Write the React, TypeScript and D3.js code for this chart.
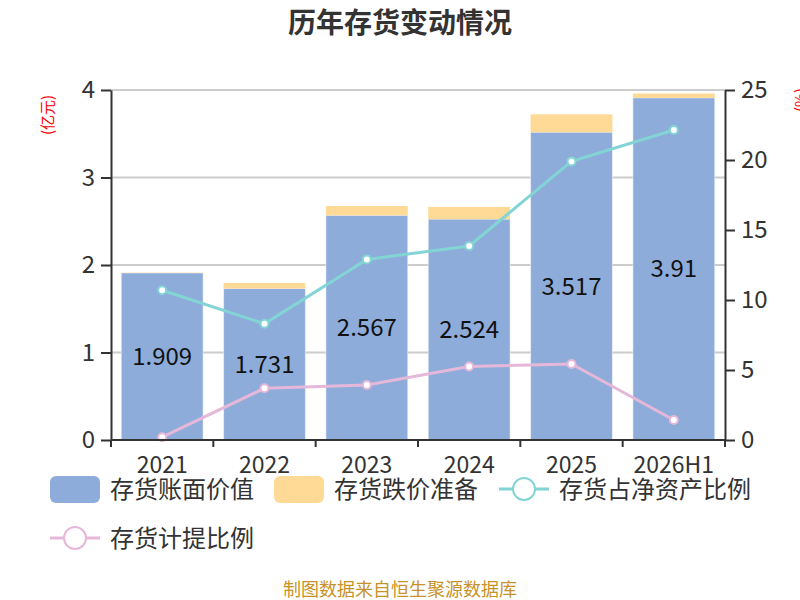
import React, { useEffect, useRef } from 'react';
import * as d3 from 'd3';

const years = ['2021', '2022', '2023', '2024', '2025', '2026H1'];
const bookValue = [1.909, 1.731, 2.567, 2.524, 3.517, 3.91];
const reserve = [0.004, 0.065, 0.107, 0.14, 0.205, 0.05];
const netAssetRatio = [10.7, 8.3, 12.9, 13.86, 19.9, 22.14];
const provisionRatio = [0.2, 3.7, 3.93, 5.25, 5.43, 1.43];
const leftTicks = [0, 1, 2, 3, 4];
const rightTicks = [0, 5, 10, 15, 20, 25];

const FONT = '"Noto Sans CJK SC", "Noto Sans", sans-serif';
const BLUE = '#8eacda';
const YELLOW = '#ffd996';
const TEAL = '#83d4d4';
const PINK = '#e5b8da';

const App: React.FC = () => {
  const svgRef = useRef<SVGSVGElement | null>(null);

  useEffect(() => {
    const width = 800;
    const height = 600;
    const marginLeft = 111;
    const marginRight = 75;
    const top = 90;
    const bottom = 440;

    const svg = d3.select(svgRef.current);
    svg.selectAll('*').remove();
    svg.attr('width', width).attr('height', height);

    const x = d3.scaleBand()
      .domain(years)
      .range([marginLeft, width - marginRight])
      .paddingInner(0.2)
      .paddingOuter(0.1);

    const y = d3.scaleLinear().domain([0, 4]).range([bottom, top]);
    const y2 = d3.scaleLinear().domain([0, 25]).range([bottom, top]);

    // Title
    svg.append('text')
      .attr('x', 400)
      .attr('y', 33)
      .attr('text-anchor', 'middle')
      .attr('font-family', FONT)
      .attr('font-size', 28)
      .attr('font-weight', 'bold')
      .attr('fill', '#333')
      .text('历年存货变动情况');

    // Grid lines (behind bars)
    svg.append('g')
      .selectAll('line')
      .data(leftTicks.slice(1))
      .join('line')
      .attr('x1', marginLeft)
      .attr('x2', width - marginRight)
      .attr('y1', d => y(d))
      .attr('y2', d => y(d))
      .attr('stroke', '#cccccc')
      .attr('stroke-width', 2);

    // Stacked bars
    const bars = svg.append('g');
    bars.selectAll('rect.book')
      .data(years)
      .join('rect')
      .attr('class', 'book')
      .attr('x', d => x(d)!)
      .attr('width', x.bandwidth())
      .attr('y', (_, i) => y(bookValue[i]))
      .attr('height', (_, i) => y(0) - y(bookValue[i]))
      .attr('fill', BLUE)
      .attr('stroke', '#ffffff')
      .attr('stroke-opacity', 0.5)
      .attr('stroke-width', 1);

    bars.selectAll('rect.reserve')
      .data(years)
      .join('rect')
      .attr('class', 'reserve')
      .attr('x', d => x(d)!)
      .attr('width', x.bandwidth())
      .attr('y', (_, i) => y(bookValue[i] + reserve[i]))
      .attr('height', (_, i) => y(bookValue[i]) - y(bookValue[i] + reserve[i]))
      .attr('fill', YELLOW);

    // Bar labels
    svg.append('g')
      .selectAll('text')
      .data(years)
      .join('text')
      .attr('x', d => x(d)! + x.bandwidth() / 2)
      .attr('y', (_, i) => (y(0) + y(bookValue[i])) / 2)
      .attr('dy', '0.35em')
      .attr('text-anchor', 'middle')
      .attr('font-family', FONT)
      .attr('font-size', 24)
      .attr('fill', '#111')
      .text((_, i) => String(bookValue[i]));

    // Lines
    const drawLine = (values: number[], color: string) => {
      const line = d3.line<number>()
        .x((_, i) => x(years[i])! + x.bandwidth() / 2)
        .y(d => y2(d));
      const g = svg.append('g');
      g.append('path')
        .datum(values)
        .attr('d', line)
        .attr('fill', 'none')
        .attr('stroke', color)
        .attr('stroke-width', 3);
      g.selectAll('circle')
        .data(values)
        .join('circle')
        .attr('cx', (_, i) => x(years[i])! + x.bandwidth() / 2)
        .attr('cy', d => y2(d))
        .attr('r', 4)
        .attr('fill', '#fff')
        .attr('stroke', color)
        .attr('stroke-width', 2);
    };
    drawLine(netAssetRatio, TEAL);
    drawLine(provisionRatio, PINK);

    const styleAxis = (g: d3.Selection<SVGGElement, unknown, null, undefined>) => {
      g.select('.domain').attr('stroke', '#333').attr('stroke-width', 2);
      g.selectAll('.tick line').attr('stroke', '#333').attr('stroke-width', 2);
      g.selectAll('.tick text')
        .attr('fill', '#333')
        .attr('font-family', FONT)
        .attr('font-size', 24);
    };

    // Left axis
    svg.append('g')
      .attr('transform', `translate(${marginLeft},0)`)
      .call(d3.axisLeft(y).tickValues(leftTicks).tickFormat(d3.format('d')).tickSize(10).tickSizeOuter(0).tickPadding(6))
      .call(styleAxis);

    // Right axis
    svg.append('g')
      .attr('transform', `translate(${width - marginRight},0)`)
      .call(d3.axisRight(y2).tickValues(rightTicks).tickFormat(d3.format('d')).tickSize(10).tickSizeOuter(0).tickPadding(6))
      .call(styleAxis);

    // Bottom axis with ticks at band boundaries
    const xAxis = svg.append('g').attr('transform', `translate(0,${bottom})`);
    xAxis.append('line')
      .attr('x1', marginLeft)
      .attr('x2', width - marginRight)
      .attr('stroke', '#333')
      .attr('stroke-width', 2);
    const step = x.step();
    const boundaries = d3.range(years.length + 1).map(i => marginLeft + i * step);
    xAxis.selectAll('line.tick')
      .data(boundaries)
      .join('line')
      .attr('class', 'tick')
      .attr('x1', d => d)
      .attr('x2', d => d)
      .attr('y1', 0)
      .attr('y2', 7)
      .attr('stroke', '#333')
      .attr('stroke-width', 2);
    xAxis.selectAll('text')
      .data(years)
      .join('text')
      .attr('x', d => x(d)! + x.bandwidth() / 2)
      .attr('y', 33)
      .attr('text-anchor', 'middle')
      .attr('font-family', FONT)
      .attr('font-size', 23)
      .attr('fill', '#333')
      .text(d => d);

    // Axis units
    svg.append('text')
      .attr('transform', 'translate(48,115) rotate(-90)')
      .attr('text-anchor', 'middle')
      .attr('dy', '0.35em')
      .attr('font-family', FONT)
      .attr('font-size', 15)
      .attr('fill', '#ff0000')
      .text('(亿元)');
    svg.append('text')
      .attr('transform', 'translate(801,100) rotate(-90)')
      .attr('text-anchor', 'middle')
      .attr('dy', '0.35em')
      .attr('font-family', FONT)
      .attr('font-size', 15)
      .attr('fill', '#ff0000')
      .text('(%)');

    // Legend
    const legend = svg.append('g').attr('font-family', FONT).attr('font-size', 24).attr('fill', '#333');
    const rectItems = [
      { label: '存货账面价值', color: BLUE, x: 50 },
      { label: '存货跌价准备', color: YELLOW, x: 274 },
    ];
    rectItems.forEach(item => {
      legend.append('rect')
        .attr('x', item.x)
        .attr('y', 476)
        .attr('width', 50)
        .attr('height', 27)
        .attr('rx', 6)
        .attr('fill', item.color);
      legend.append('text')
        .attr('x', item.x + 60)
        .attr('y', 490)
        .attr('dy', '0.35em')
        .text(item.label);
    });
    const lineItems = [
      { label: '存货占净资产比例', color: TEAL, x: 499, y: 489 },
      { label: '存货计提比例', color: PINK, x: 50, y: 538 },
    ];
    lineItems.forEach(item => {
      legend.append('line')
        .attr('x1', item.x)
        .attr('x2', item.x + 50)
        .attr('y1', item.y)
        .attr('y2', item.y)
        .attr('stroke', item.color)
        .attr('stroke-width', 3);
      legend.append('circle')
        .attr('cx', item.x + 25)
        .attr('cy', item.y)
        .attr('r', 11)
        .attr('fill', '#fff')
        .attr('stroke', item.color)
        .attr('stroke-width', 2);
      legend.append('text')
        .attr('x', item.x + 60)
        .attr('y', item.y + 1)
        .attr('dy', '0.35em')
        .text(item.label);
    });

    // Footer
    svg.append('text')
      .attr('x', 400)
      .attr('y', 596)
      .attr('text-anchor', 'middle')
      .attr('font-family', FONT)
      .attr('font-size', 18)
      .attr('fill', '#c8922a')
      .text('制图数据来自恒生聚源数据库');
  }, []);

  return (
    <div style={{ position: 'absolute', left: 0, top: 0, width: 800, height: 600, overflow: 'hidden', background: '#fff' }}>
      <svg ref={svgRef} style={{ display: 'block' }}></svg>
    </div>
  );
};

export default App;
